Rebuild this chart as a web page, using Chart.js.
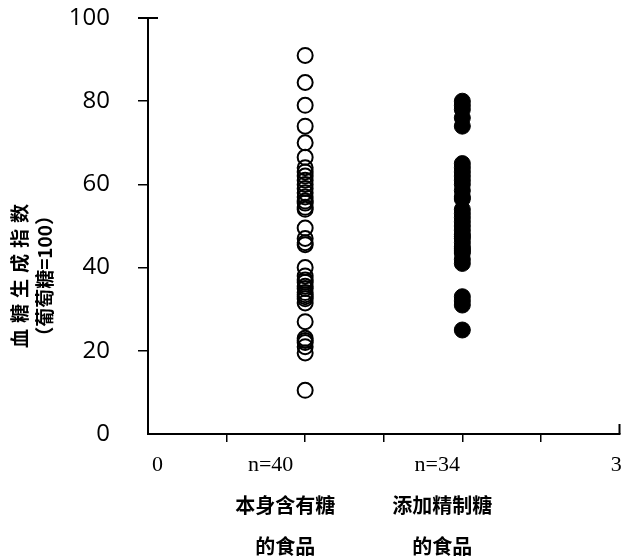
<!DOCTYPE html>
<html>
<head>
<meta charset="utf-8">
<script src="https://cdn.jsdelivr.net/npm/chart.js@4"></script>
<style>
  html, body { margin: 0; padding: 0; background: #fff; }
  canvas { display: block; }
</style>
</head>
<body>
<canvas id="gi" width="629" height="559"></canvas>
<script>
// values
const naturalSugar = [91, 84.5, 79, 74, 70, 66.5, 64, 63, 62, 61, 60, 59, 58, 57, 56, 55.5, 54.5, 54,
  49.5, 47, 46, 45.5, 40, 38, 37, 36.5, 35.5, 35, 34, 33.5, 33, 32.5, 31.5, 27, 23, 22.5, 22, 21, 19.5, 10.5];
const addedSugar = [80, 79, 78, 76, 74, 65, 64, 63, 62, 61, 60, 58.5, 57, 56.5, 54, 53, 52, 51, 50, 49,
  48, 47.5, 47, 46, 45, 44.5, 44, 43.5, 42, 41, 33, 32, 31, 25];

const groupX = [1, 2];
const groupN = ["n=40", "n=34"];
const groupNames = [
  ["本身含有糖", "的食品"],
  ["添加精制糖", "的食品"]
];
const xTickMarks = [0.5, 1, 1.5, 2, 2.5];
const xEnds = [0, 3];
const yTitle = ["血糖生成指数", "（葡萄糖=100）"];

// the printed labels sit a little off their tick positions (in x units)
const endNudge = [0.06, -0.02];
const nNudge = [-0.22, -0.16];

const toPoints = (vals, x) => vals.map(v => ({ x: x, y: v }));
const noSidePad = s => { s.paddingLeft = 0; s.paddingRight = 0; };

// y axis title sits lower than the axis middle in the original, so draw it here
const yTitlePlugin = {
  id: "yTitle",
  afterDraw(chart) {
    const ctx = chart.ctx;
    const mid = chart.scales.y.getPixelForValue(38);
    ctx.save();
    ctx.fillStyle = "#000";
    ctx.textAlign = "center";
    ctx.textBaseline = "middle";
    ctx.font = "bold 19px 'Noto Sans CJK SC'";
    [[20, 6], [45, 0]].forEach(([x, sp], i) => {
      ctx.save();
      ctx.translate(x, mid);
      ctx.rotate(-Math.PI / 2);
      ctx.letterSpacing = sp + "px";
      ctx.fillText(yTitle[i], sp / 2, 0);
      ctx.restore();
    });
    ctx.restore();
  }
};

// little caps at the top of the y axis and right end of the x axis
const capsPlugin = {
  id: "caps",
  afterDraw(chart) {
    const { ctx, scales: { x, y } } = chart;
    const top = y.getPixelForValue(100);
    const right = x.getPixelForValue(3);
    const base = y.getPixelForValue(0);
    ctx.save();
    ctx.strokeStyle = "#000";
    ctx.lineWidth = 2;
    ctx.beginPath();
    ctx.moveTo(x.left - 10, top);
    ctx.lineTo(x.left + 10, top);
    ctx.moveTo(right, base);
    ctx.lineTo(right, base - 10);
    ctx.stroke();
    ctx.restore();
  }
};

// x ticks: real tick marks, plus label-only ticks for the end numbers and n=
const xLabelTicks = [
  ...xEnds.map((v, i) => ({ value: v + endNudge[i], text: String(v) })),
  ...groupX.map((v, i) => ({ value: v + nNudge[i], text: groupN[i] }))
];
const xLabelAt = v => {
  const t = xLabelTicks.find(t => Math.abs(t.value - v) < 1e-9);
  return t ? t.text : null;
};

new Chart(document.getElementById("gi"), {
  type: "scatter",
  data: {
    datasets: [{
      data: toPoints(naturalSugar, groupX[0]),
      pointStyle: "circle",
      pointRadius: 7.5,
      borderWidth: 2,
      borderColor: "#000",
      backgroundColor: "rgba(0,0,0,0)"
    }, {
      data: toPoints(addedSugar, groupX[1]),
      pointStyle: "circle",
      pointRadius: 8,
      borderWidth: 1,
      borderColor: "#000",
      backgroundColor: "#000"
    }]
  },
  options: {
    responsive: false,
    animation: false,
    devicePixelRatio: 1,
    layout: { padding: { top: 18, right: -2, left: 0, bottom: 0 } },
    plugins: { legend: { display: false }, tooltip: { enabled: false } },
    scales: {
      x: {
        type: "linear",
        position: "bottom",
        min: 0,
        max: 3,
        afterFit: s => { s.height = 51; noSidePad(s); },
        afterBuildTicks: s => {
          s.ticks = xTickMarks.map(v => ({ value: v }))
            .concat(xLabelTicks.map(t => ({ value: t.value })))
            .sort((a, b) => a.value - b.value);
        },
        border: { color: "#000", width: 2 },
        grid: {
          drawOnChartArea: false,
          tickLength: 8,
          lineWidth: 1.5,
          color: c => (c.tick && xTickMarks.includes(c.tick.value)) ? "#000" : "rgba(0,0,0,0)"
        },
        ticks: {
          autoSkip: false,
          maxRotation: 0,
          padding: 10,
          color: "#000",
          font: { family: "'Liberation Serif'", size: 22 },
          callback: v => xLabelAt(v) || ""
        }
      },
      x2: {
        type: "linear",
        position: "bottom",
        min: 0,
        max: 3,
        afterFit: s => { s.height = 74; noSidePad(s); },
        afterBuildTicks: s => { s.ticks = groupX.map(v => ({ value: v })); },
        border: { display: false },
        grid: { display: false, drawTicks: false },
        ticks: {
          autoSkip: false,
          maxRotation: 0,
          padding: 0,
          labelOffset: -20,
          color: "#000",
          font: { family: "'Noto Sans CJK SC'", size: 20, weight: "bold", lineHeight: 2.05 },
          callback: v => {
            const i = groupX.indexOf(v);
            return i >= 0 ? groupNames[i] : "";
          }
        }
      },
      y: {
        min: 0,
        max: 100,
        afterFit: s => { s.width = 148; s.paddingTop = 0; s.paddingBottom = 0; },
        border: { color: "#000", width: 2 },
        grid: {
          drawOnChartArea: false,
          tickLength: 10,
          lineWidth: 1.5,
          color: c => (c.tick && c.tick.value === 0) ? "rgba(0,0,0,0)" : "#000"
        },
        ticks: {
          stepSize: 20,
          padding: 28,
          color: "#000",
          font: { family: "'Open Sans'", size: 24 }
        }
      }
    }
  },
  plugins: [yTitlePlugin, capsPlugin]
});
</script>
</body>
</html>
